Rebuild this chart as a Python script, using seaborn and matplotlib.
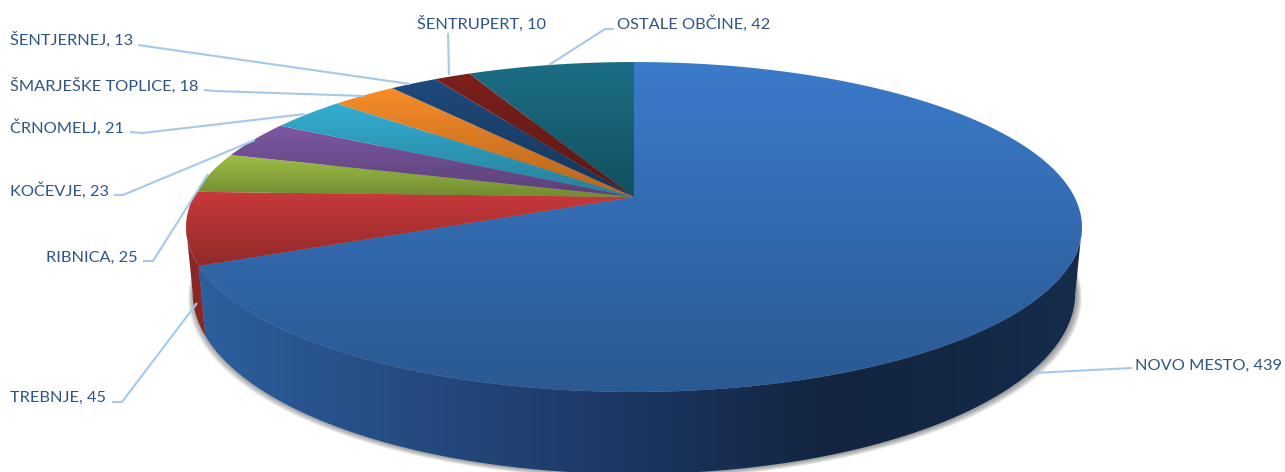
import numpy as np
import matplotlib
matplotlib.use('Agg')
import matplotlib.pyplot as plt
from matplotlib.colors import LinearSegmentedColormap, to_rgb
from matplotlib.patches import Polygon
import seaborn as sns

municipalities = ['NOVO MESTO', 'TREBNJE', 'RIBNICA', 'KOČEVJE', 'ČRNOMELJ',
                  'ŠMARJEŠKE TOPLICE', 'ŠENTJERNEJ', 'ŠENTRUPERT', 'OSTALE OBČINE']
counts = [439, 45, 25, 23, 21, 18, 13, 10, 42]
slice_colors = ['#3B7BCB', '#C9393A', '#9DC044', '#7D58A3', '#34AFD3',
                '#F98C28', '#1E4A7C', '#7D201C', '#1B6E85']

# label x, y, then leader line points
label_layout = [
    (1135, 366, [(1132, 368), (1033, 373)]),
    (10, 398, [(112, 402), (122, 402), (197, 303)]),
    (46, 258, [(143, 261), (153, 261), (208, 174)]),
    (10, 191, [(114, 195), (123, 195), (255, 140)]),
    (10, 128, [(130, 132), (143, 133), (305, 114)]),
    (10, 86, [(204, 90), (215, 91), (363, 96)]),
    (10, 40, [(138, 45), (145, 46), (410, 84)]),
    (417, 24, [(448, 33), (449, 75)]),
    (617, 24, [(614, 29), (605, 29), (549, 65)]),
]

sns.set_theme(style='white')
plt.rcParams['font.family'] = ['Lato', 'DejaVu Sans']

fig = plt.figure(figsize=(12.85, 4.72), dpi=100)
ax = fig.add_axes([0, 0, 1, 1])

# let pie work out the angles, the perspective is done below
wedges, _ = ax.pie(counts, startangle=90, counterclock=False)
angles = [(w.theta1, w.theta2) for w in wedges]
for w in wedges:
    w.remove()

ax.set_aspect('auto')
ax.set_xlim(0, 1285)
ax.set_ylim(472, 0)
ax.axis('off')

APEX_X, APEX_Y = 634, 197
RX, RY, PERSP = 440.5, 159.5, 0.1818
CENTER_Y = 227
LOWER_Y, LOWER_SX, LOWER_SY = 293, 0.985, 1.097
TANGENT = np.degrees(np.arcsin(PERSP))


def warp(theta):
    # the 3d view stretches the back left a little, about 2 degrees
    a = (90 - np.asarray(theta)) % 360
    a = np.interp(a, [0, 248.5, 336.2, 360], [0, 246.4, 334.2, 360])
    return 90 - a


def project(theta):
    t = np.radians(theta)
    u, v = np.cos(t), np.sin(t)
    w = 1 + PERSP * v
    return APEX_X + RX * u / w, APEX_Y - RY * v / w


def lower(x, y):
    return APEX_X + LOWER_SX * (x - APEX_X), LOWER_Y + LOWER_SY * (y - CENTER_Y)


def fill_gradient(verts, cmap, horizontal=False, extent=None, zorder=2):
    verts = np.asarray(verts)
    x0, x1 = verts[:, 0].min(), verts[:, 0].max()
    y0, y1 = verts[:, 1].min(), verts[:, 1].max()
    if extent:
        x0, x1 = extent
    grad = np.linspace(0, 1, 256)
    grad = grad.reshape(1, -1) if horizontal else grad.reshape(-1, 1)
    im = ax.imshow(grad, cmap=cmap, extent=(x0, x1, y1, y0), origin='upper',
                   aspect='auto', zorder=zorder)
    poly = Polygon(verts, closed=True, transform=ax.transData, fc='none', ec='none')
    ax.add_patch(poly)
    im.set_clip_path(poly)
    ax.set_xlim(0, 1285)
    ax.set_ylim(472, 0)


# soft shadow under the body
t_all = np.linspace(0, 360, 400)
rim_x, rim_y = lower(*project(t_all))
for grow in range(9, 0, -1):
    ax.fill(APEX_X + (rim_x - APEX_X) * (1 + grow * 0.0014) + 1,
            rim_y + grow * 0.55, color='#404040', alpha=0.07, lw=0, zorder=1)

# side walls, front part only (between the two tangent points)
front_stops = [(0.0, '#2C609E'), (0.12, '#28558F'), (0.45, '#1E3A68'),
               (0.72, '#12243F'), (1.0, '#152C4B')]
front_cmap = LinearSegmentedColormap.from_list('front', front_stops)
for (t1, t2), col in zip(angles, slice_colors):
    cand = warp(np.linspace(t1, t2, 400))
    m = np.mod(cand, 360)
    keep = cand[(m >= 180 + TANGENT) & (m <= 360 - TANGENT)]
    if len(keep) < 2:
        continue
    tx, ty = project(keep)
    bx, by = lower(tx, ty)
    verts = np.r_[np.c_[tx, ty], np.c_[bx, by][::-1]]
    if col == slice_colors[0]:
        fill_gradient(verts, front_cmap, horizontal=True, extent=(195, 1082))
    else:
        dark = tuple(c * 0.68 for c in to_rgb(col))
        ax.fill(verts[:, 0], verts[:, 1], color=dark, lw=0, zorder=2)

# top of the pie
for (t1, t2), col in zip(angles, slice_colors):
    ts = np.linspace(t1, t2 - 1e-6, 300)
    ax_x, ax_y = project(warp(ts))
    verts = np.r_[[[APEX_X, APEX_Y]], np.c_[ax_x, ax_y]]
    base = to_rgb(col)
    cmap = LinearSegmentedColormap.from_list('s', [base, tuple(c * 0.72 for c in base)])
    fill_gradient(verts, cmap, zorder=3)

# leader lines and labels
for name, val, (lx, ly, pts) in zip(municipalities, counts, label_layout):
    xs, ys = zip(*pts)
    ax.plot(xs, ys, color='#A6C8EC', lw=1.5, zorder=4, solid_capstyle='butt')
    ax.text(lx, ly, f'{name}, {val}', color='#2F5587', fontsize=11.8,
            va='center', ha='left', zorder=5)

fig.savefig('out.png', dpi=100, facecolor='white')
